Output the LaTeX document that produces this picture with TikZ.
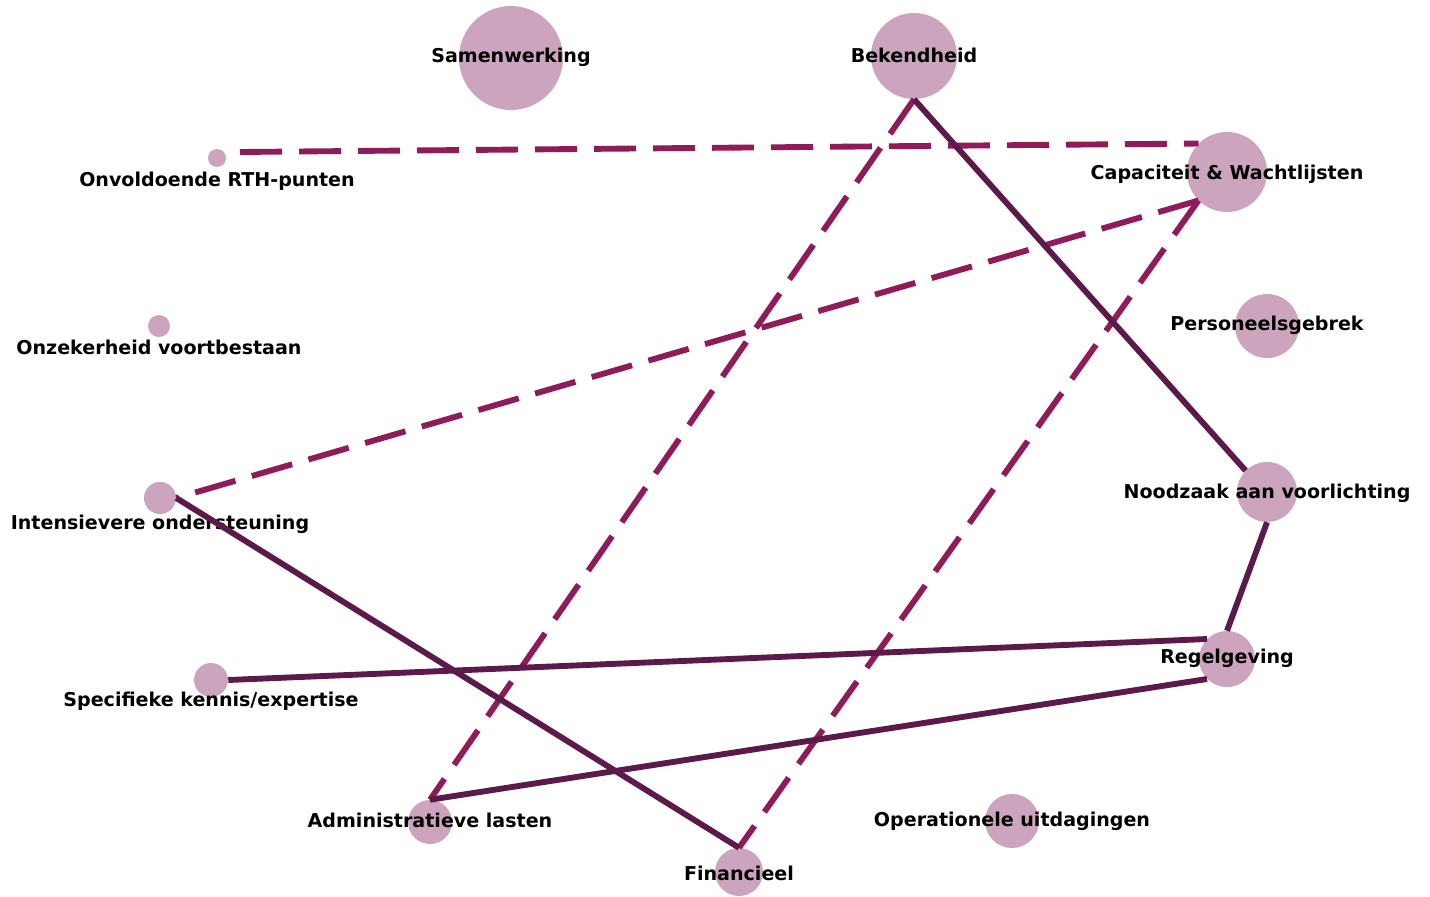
\documentclass[tikz,border=0pt]{standalone}
\usepackage{fontspec}
\setmainfont{DejaVu Sans}
\usetikzlibrary{calc}
\definecolor{bubcol}{HTML}{CDA4BD}
\definecolor{dashcol}{HTML}{8F1B58}
\definecolor{solidcol}{HTML}{5B1A49}
\tikzset{
  bub/.style={circle, fill=bubcol, draw=none, inner sep=0pt, minimum size=#1*1.5pt},
  lbl/.style={font=\bfseries\fontsize{14.3pt}{16pt}\selectfont, text=black, inner sep=0pt},
  dashlink/.style={draw=dashcol, line width=4.4pt, dash pattern=on 31.5pt off 12.75pt},
  solidlink/.style={draw=solidcol, line width=4.4pt}
}
\begin{document}
\begin{tikzpicture}[x=0.75pt,y=-0.75pt]
\useasboundingbox[fill=white] (0,0) rectangle (1430,896);
% bubbles
\node[bub=52] (sam) at (511,58) {};
\node[bub=43] (bek) at (914,56) {};
\node[bub=40] (cap) at (1227,172) {};
\node[bub=9] (rth) at (217,158) {};
\node[bub=11] (onz) at (159,326) {};
\node[bub=32] (per) at (1267,326) {};
\node[bub=16] (int) at (160,498) {};
\node[bub=30] (nood) at (1267,492) {};
\node[bub=28] (reg) at (1227,659) {};
\node[bub=17] (spec) at (211,680) {};
\node[bub=22] (adm) at (430,822) {};
\node[bub=24] (fin) at (739,872) {};
\node[bub=27] (ope) at (1012,821) {};
% labels
\node[lbl] (samL) at (511,57) {Samenwerking};
\node[lbl] (bekL) at (914,55) {Bekendheid};
\node[lbl] (capL) at (1227,174) {Capaciteit \& Wachtlijsten};
\node[lbl] (rthL) at (217,181) {Onvoldoende RTH-punten};
\node[lbl] (onzL) at (159,347) {Onzekerheid voortbestaan};
\node[lbl] (perL) at (1267,325) {Personeelsgebrek};
\node[lbl] (intL) at (160,524) {Intensievere ondersteuning};
\node[lbl] (noodL) at (1267,493) {Noodzaak aan voorlichting};
\node[lbl] (regL) at (1227,658) {Regelgeving};
\node[lbl] (specL) at (211,701) {Specifieke kennis/expertise};
\node[lbl] (admL) at (430,820) {Administratieve lasten};
\node[lbl] (finL) at (739,873) {Financieel};
\node[lbl] (opeL) at (1012,821) {Operationele uitdagingen};
% links
\draw[dashlink] ([shift={(23,-6)}]rth.center) -- (cap.135);
\draw[dashlink] (cap.225) -- (int.east);
\draw[dashlink] (cap.225) -- (fin.north);
\draw[dashlink] (bek.south) -- (adm.north);
\draw[solidlink] (bek.south) -- (nood.135);
\draw[solidlink] (int.east) -- (fin.north);
\draw[solidlink] (nood.south) -- (reg.north);
\draw[solidlink] (spec.east) -- (reg.135);
\draw[solidlink] (adm.north) -- (reg.225);
\end{tikzpicture}
\end{document}
